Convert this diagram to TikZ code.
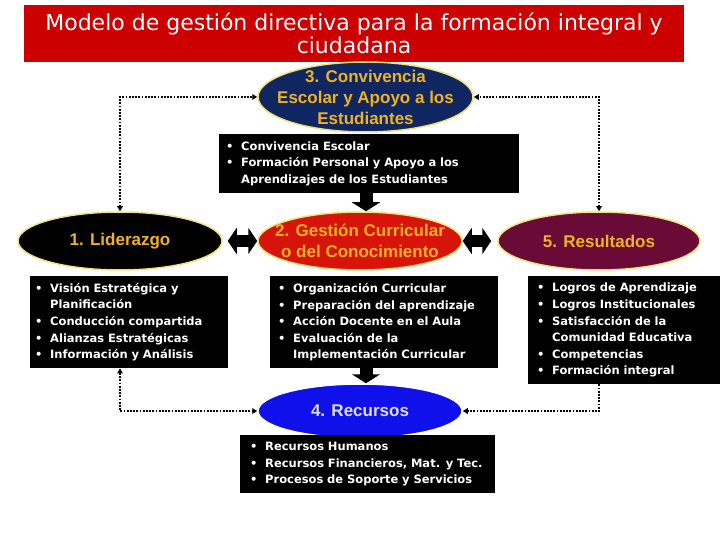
\documentclass[tikz,border=0pt]{standalone}
\usepackage{fontspec}
\setmainfont{DejaVu Sans}
\newfontfamily\arialfont{Liberation Sans}
\usetikzlibrary{shapes.geometric,arrows.meta}
\definecolor{titlered}{RGB}{204,0,0}
\definecolor{navyfill}{RGB}{16,38,96}
\definecolor{redfill}{RGB}{215,20,10}
\definecolor{bluefill}{RGB}{16,16,235}
\definecolor{maroonfill}{RGB}{105,10,55}
\definecolor{goldtext}{RGB}{238,178,38}
\definecolor{glow}{RGB}{240,225,120}
\definecolor{lighttext}{RGB}{222,222,235}
\newcommand\bl[1]{\mbox{\makebox[15pt][l]{\textbullet}#1}}
\newcommand\cl[1]{\mbox{\hspace*{15pt}#1}}
\tikzset{mytip/.tip={Triangle[length=5pt,width=5.5pt]}}
\begin{document}
\begin{tikzpicture}[x=1pt,y=-1pt,
  ell/.style={ellipse, draw=glow, line width=1.5pt, inner sep=0pt},
  elltext/.style={font=\arialfont\bfseries\fontsize{17}{21}\selectfont, text=goldtext, align=center, inner sep=0pt},
  box/.style={fill=black, text=white, font=\bfseries\fontsize{11.5}{16.6}\selectfont, align=left, anchor=north west, inner ysep=0pt},
  conn/.style={line width=2.1pt, dash pattern=on 1.8pt off 1.4pt},
  block/.style={line width=13pt, -{Triangle[length=9pt,width=28pt]}},
  dbl/.style={line width=12pt, {Triangle[length=9pt,width=26pt]}-{Triangle[length=9pt,width=26pt]}}
]
\useasboundingbox (0,0) rectangle (720,540);
\fill[white] (0,0) rectangle (720,540);

% title
\node[fill=titlered, minimum width=660pt, minimum height=57pt, inner sep=0pt, text=white,
      align=center, font=\fontsize{22}{23}\selectfont] (title) at (354,33.5)
  {Modelo de gestión directiva para la formación integral y\\ciudadana};

% ellipses
\node[ell, fill=navyfill, minimum width=215pt, minimum height=70pt] (n3) at (365.5,97) {};
\node[elltext] at (n3) {3. Convivencia\\Escolar y Apoyo a los\\Estudiantes};

\node[ell, fill=black, minimum width=204pt, minimum height=58pt] (n1) at (120,241) {};
\node[elltext] at (n1) {1. Liderazgo};

\node[ell, fill=redfill, minimum width=204pt, minimum height=58pt] (n2) at (360,241) {};
\node[elltext] at (n2) {2. Gestión Curricular\\o del Conocimiento};

\node[ell, fill=maroonfill, minimum width=202pt, minimum height=58pt] (n5) at (599,241) {};
\node[elltext] at (n5) {5. Resultados};

\node[ell, draw=white, fill=bluefill, minimum width=204pt, minimum height=54pt] (n4) at (360,411) {};
\node[elltext, text=lighttext] at (n4) {4. Recursos};

% boxes
\node[box, text width=286pt, inner xsep=7pt, minimum height=59pt] (b3) at (219,134)
  {\bl{Convivencia Escolar}\\\bl{Formación Personal y Apoyo a los}\\\cl{Aprendizajes de los Estudiantes}};

\node[box, text width=188pt, inner xsep=5pt, minimum height=92pt] (b1) at (30,276)
  {\bl{Visión Estratégica y}\\\cl{Planificación}\\\bl{Conducción compartida}\\\bl{Alianzas Estratégicas}\\\bl{Información y Análisis}};

\node[box, text width=212pt, inner xsep=8pt, minimum height=92pt] (b2) at (270,276)
  {\bl{Organización Curricular}\\\bl{Preparación del aprendizaje}\\\bl{Acción Docente en el Aula}\\\bl{Evaluación de la}\\\cl{Implementación Curricular}};

\node[box, text width=174pt, inner xsep=9pt, minimum height=108pt] (b5) at (528,276)
  {\bl{Logros de Aprendizaje}\\\bl{Logros Institucionales}\\\bl{Satisfacción de la}\\\cl{Comunidad Educativa}\\\bl{Competencias}\\\bl{Formación integral}};

\node[box, text width=235pt, inner xsep=10pt, minimum height=58pt] (b4) at (240,435)
  {\bl{Recursos Humanos}\\\bl{Recursos Financieros, Mat. y Tec.}\\\bl{Procesos de Soporte y Servicios}};

% dotted connectors
\draw[conn, {mytip}-{mytip}] (n1.north) |- (n3.west);
\draw[conn, {mytip}-{mytip}] (n5.north) |- (n3.east);
\draw[conn, {mytip}-{mytip}] (n1.south |- b1.south) |- (n4.west);
\draw[conn, -{mytip}] (n5.south |- b5.south) |- (n4.east);

% block arrows
\draw[block] ([xshift=6pt]n2.north |- b3.south) -- ([xshift=6pt]n2.north);
\draw[block] ([xshift=6pt]n4.north |- b2.south) -- ([xshift=6pt]n4.north);
\draw[dbl, shorten <=5pt] (n1.east) -- (n2.west);
\draw[dbl, shorten >=6pt] (n2.east) -- (n5.west);
\end{tikzpicture}
\end{document}
